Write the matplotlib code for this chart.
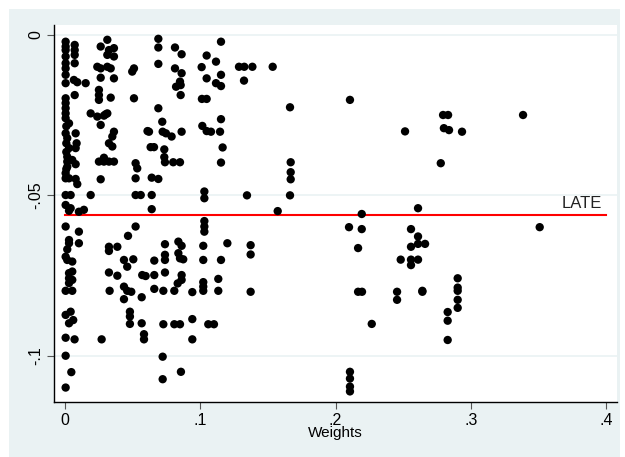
import matplotlib.pyplot as plt
from matplotlib.patches import Rectangle
from matplotlib.ticker import FixedLocator

plt.rcParams['font.family'] = ['Liberation Sans', 'DejaVu Sans']

# # # # # # # # # # # # # # # #   D A T A   # # # # # # # # # # # # # # # #
# left cluster, weights below ~0.06
weights_low = [
    0.0005, 0.0005, 0.0005, 0.0005, 0.0005, 0.0005, 0.0005, 0.0005, 0.0005, 0.0005,
    0.0005, 0.0005, 0.0005, 0.0005, 0.0005, 0.0005, 0.0005, 0.0005, 0.0005, 0.0005,
    0.0005, 0.0005, 0.0005, 0.0005, 0.0005, 0.001, 0.001, 0.001, 0.001,
    0.003, 0.003, 0.003, 0.003, 0.003, 0.003, 0.003, 0.003, 0.003, 0.003,
    0.0017, 0.0017, 0.0017, 0.0017, 0.0017, 0.0017,
    0.0042, 0.0042, 0.0042, 0.0047,
    0.0054, 0.0054, 0.0054, 0.0054, 0.0054, 0.0061, 0.0066, 0.0071,
    0.0072, 0.0072, 0.0072, 0.0072, 0.0072,
    0.0079, 0.0079, 0.0079, 0.0079, 0.0086, 0.0091, 0.0091,
    0.0103, 0.0103, 0.0103, 0.014, 0.0153, 0.019, 0.019,
    0.0239, 0.0239, 0.0251, 0.0251, 0.0251, 0.0251,
    0.0264, 0.0264, 0.0264, 0.0264, 0.0264, 0.0271,
    0.0288, 0.0288, 0.0288, 0.030,
    0.0313, 0.0313, 0.0313, 0.0313,
    0.0325, 0.0325, 0.0325, 0.0325, 0.0325, 0.0325, 0.033,
    0.0338, 0.0338, 0.035, 0.035,
    0.0362, 0.0362, 0.0362, 0.0362, 0.0362,
    0.0387, 0.0387, 0.0436, 0.0436, 0.0436, 0.046, 0.046, 0.0466,
    0.048, 0.048, 0.048, 0.049, 0.0497, 0.0505, 0.051, 0.051,
    0.0522, 0.0522, 0.0522, 0.0522, 0.0534, 0.056,
    0.0567, 0.0567, 0.0571, 0.0584, 0.0584, 0.0596,
]
effects_low = [
    -0.0022, -0.0037, -0.0048, -0.0068, -0.0089, -0.0105, -0.0125, -0.0151, -0.0198, -0.0213,
    -0.0229, -0.0245, -0.026, -0.0307, -0.0431, -0.0447, -0.0499, -0.053, -0.0597, -0.0691,
    -0.0797, -0.0872, -0.0943, -0.0999, -0.1098, -0.0285, -0.0338, -0.0365, -0.0418,
    -0.0276, -0.0353, -0.0447, -0.0548, -0.0639, -0.0649, -0.0742, -0.0758, -0.0773, -0.0898,
    -0.0322, -0.038, -0.0395, -0.0411, -0.0668, -0.0701,
    -0.0499, -0.054, -0.0862, -0.105,
    -0.039, -0.0706, -0.0737, -0.0763, -0.0797, -0.0888, -0.0141, -0.0948,
    -0.0032, -0.0048, -0.0063, -0.0089, -0.0188,
    -0.0307, -0.0353, -0.0403, -0.0449, -0.0338, -0.0148, -0.0465,
    -0.0551, -0.0613, -0.0649, -0.0545, -0.0151, -0.0245, -0.0499,
    -0.0255, -0.01, -0.0172, -0.0188, -0.0203, -0.0395,
    -0.0037, -0.0105, -0.0134, -0.0281, -0.045, -0.0948,
    -0.0252, -0.0383, -0.0395, -0.0248,
    -0.0016, -0.0063, -0.01, -0.0245,
    -0.0048, -0.0338, -0.0395, -0.066, -0.0673, -0.074, -0.0797,
    -0.0105, -0.0196, -0.0317, -0.0348,
    -0.0042, -0.0068, -0.0136, -0.0302, -0.0395,
    -0.066, -0.075, -0.0701, -0.0784, -0.0823, -0.0722, -0.0797, -0.0626,
    -0.0862, -0.0877, -0.090, -0.080, -0.0115, -0.0699, -0.0105, -0.0198,
    -0.040, -0.0447, -0.0499, -0.0597, -0.0416, -0.0499,
    -0.0817, -0.0898, -0.0748, -0.0932, -0.0948, -0.0751,
]

# middle cluster, weights ~0.06 - 0.17
weights_mid = [
    0.061, 0.0621, 0.0633, 0.0641, 0.0641, 0.0641, 0.0658,
    0.066, 0.066, 0.066,
    0.069, 0.069, 0.069, 0.069, 0.069, 0.0719,
    0.0722, 0.0722, 0.0722, 0.0727, 0.0727, 0.0734, 0.0734,
    0.0739, 0.0739, 0.0739, 0.0739, 0.0739, 0.0746, 0.0788, 0.080,
    0.0808, 0.0808, 0.0813, 0.0813, 0.0821, 0.0833, 0.0838, 0.0838,
    0.085, 0.085, 0.085, 0.085, 0.0855, 0.0855, 0.0857,
    0.0862, 0.0862, 0.0862, 0.0862, 0.0862, 0.0862, 0.0874,
    0.0941, 0.0941, 0.0941,
    0.101, 0.1012, 0.1015, 0.1022, 0.1022, 0.1022, 0.1022, 0.1022,
    0.103, 0.103, 0.103, 0.103, 0.103,
    0.1047, 0.1047, 0.1047, 0.1047, 0.1059, 0.1079, 0.1101,
    0.1116, 0.1116, 0.1133, 0.1133, 0.1146,
    0.1153, 0.1153, 0.1153, 0.1153, 0.1153, 0.1153, 0.1165, 0.12,
    0.1286, 0.1323, 0.1325, 0.1345, 0.1372, 0.1372, 0.1372, 0.1385,
    0.1535, 0.1572, 0.1663, 0.1663, 0.1668, 0.1668, 0.1668,
]
effects_mid = [
    -0.030, -0.0302, -0.035, -0.0445, -0.0499, -0.0543, -0.035,
    -0.0703, -0.0748, -0.0791,
    -0.0013, -0.004, -0.0091, -0.0229, -0.0449, -0.0271,
    -0.0302, -0.1002, -0.1072, -0.0797, -0.0901, -0.0357, -0.0381,
    -0.0397, -0.0652, -0.0685, -0.0701, -0.074, -0.0307, -0.0317, -0.0397,
    -0.0797, -0.0901, -0.004, -0.0105, -0.0162, -0.0774, -0.0644, -0.068,
    -0.0146, -0.0397, -0.0696, -0.0901, -0.0188, -0.0157, -0.1049,
    -0.0061, -0.012, -0.0302, -0.0657, -0.0748, -0.0763, -0.0699,
    -0.0801, -0.0885, -0.0948,
    -0.0101, -0.020, -0.0284, -0.0657, -0.0701, -0.077, -0.0784, -0.0797,
    -0.0488, -0.0509, -0.058, -0.0597, -0.0613,
    -0.0065, -0.0136, -0.020, -0.030, -0.0901, -0.0302, -0.0901,
    -0.0084, -0.0151, -0.076, -0.0797, -0.0302,
    -0.0022, -0.0125, -0.016, -0.0263, -0.0398, -0.0701, -0.0351, -0.0649,
    -0.010, -0.0143, -0.010, -0.050, -0.0655, -0.0684, -0.080, -0.010,
    -0.010, -0.0549, -0.0226, -0.050, -0.0397, -0.0428, -0.045,
]

# right cluster, weights above 0.2
weights_high = [
    0.2106, 0.2106, 0.2106, 0.2106, 0.2106, 0.2099, 0.2166, 0.2166, 0.2195,
    0.2193, 0.2193, 0.2267, 0.2454, 0.2454, 0.2481, 0.2513,
    0.2557, 0.2557, 0.2557, 0.2557, 0.2609, 0.2609, 0.2609, 0.2609,
    0.2641, 0.2641, 0.2661, 0.2777, 0.2794, 0.280,
    0.2828, 0.2828, 0.2828, 0.2831, 0.2838,
    0.2902, 0.2902, 0.2902, 0.2902, 0.2902, 0.2934, 0.3385, 0.3508,
]
effects_high = [
    -0.0203, -0.1049, -0.107, -0.1095, -0.111, -0.0599, -0.0664, -0.080, -0.080,
    -0.0558, -0.0605, -0.090, -0.080, -0.0825, -0.070, -0.0301,
    -0.0605, -0.066, -0.070, -0.0717, -0.054, -0.0628, -0.0651, -0.070,
    -0.0797, -0.080, -0.0651, -0.040, -0.025, -0.0291,
    -0.0863, -0.089, -0.095, -0.025, -0.0297,
    -0.0758, -0.0787, -0.0797, -0.0825, -0.085, -0.0302, -0.025, -0.0599,
]

late_value = -0.056
late_label = 'LATE'
x_ticks = [0, 0.1, 0.2, 0.3, 0.4]
x_tick_labels = ['0', '.1', '.2', '.3', '.4']
y_ticks = [0, -0.05, -0.1]
y_tick_labels = ['0', '-.05', '-.1']


# # # # # # # # # # # # # # # #   P L O T   # # # # # # # # # # # # # # # #
W, H = 625, 457
fig = plt.figure(figsize=(W / 100, H / 100), dpi=100, facecolor='white')

# stata style outer background, kept behind the axes
fig.patches.append(Rectangle((9 / W, 0), 611 / W, 448 / H, transform=fig.transFigure,
                             facecolor='#eaf2f3', edgecolor='none', zorder=-10))

ax = fig.add_axes([54 / W, 1 - 401.7 / H, 562.7 / W, 376.7 / H])
ax.set_facecolor('white')
ax.set_zorder(1)

ax.plot([0, 0.4], [late_value, late_value], color='#ff0000', lw=1.5, zorder=2)
ax.text(0.397, late_value + 0.0012, late_label, ha='right', va='bottom', fontsize=12, color='#222222')

for xs, ys in [(weights_low, effects_low), (weights_mid, effects_mid), (weights_high, effects_high)]:
    ax.scatter(xs, ys, s=36, color='black', edgecolors='none', zorder=3)

ax.set_xlim(-0.0081, 0.4077)
ax.set_ylim(-0.1142, 0.003)

ax.xaxis.set_major_locator(FixedLocator(x_ticks))
ax.set_xticklabels(x_tick_labels)
ax.yaxis.set_major_locator(FixedLocator(y_ticks))
ax.set_yticklabels(y_tick_labels, rotation=90, va='center')

ax.grid(axis='y', color='#eaf2f3', lw=1.2, zorder=0)
ax.set_axisbelow(True)

for side in ['top', 'right']:
    ax.spines[side].set_visible(False)
for side in ['left', 'bottom']:
    ax.spines[side].set_color('black')
    ax.spines[side].set_linewidth(1.0)

ax.tick_params(axis='both', length=5, width=0.8, color='#555555', labelsize=11.5, pad=3)
ax.set_xlabel('Weights', fontsize=11, labelpad=-1)

fig.savefig('out.png', dpi=100, facecolor=fig.get_facecolor())
